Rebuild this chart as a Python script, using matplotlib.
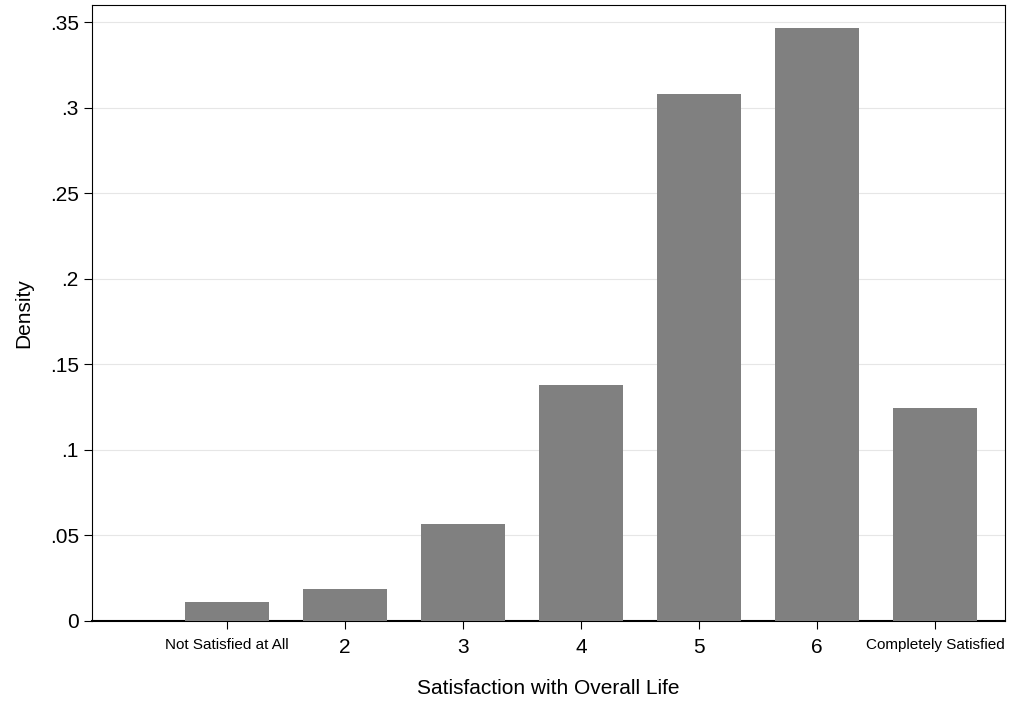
import numpy as np
import matplotlib
matplotlib.use("Agg")
import matplotlib.pyplot as plt

matplotlib.rc('font', family='Liberation Sans')

categories = ["Not Satisfied at All", "2", "3", "4", "5", "6", "Completely Satisfied"]
density = [0.0111, 0.0188, 0.0569, 0.1378, 0.3078, 0.3465, 0.1243]
y_ticks = [0, 0.05, 0.1, 0.15, 0.2, 0.25, 0.3, 0.35]
y_tick_labels = ["0", ".05", ".1", ".15", ".2", ".25", ".3", ".35"]

fig = plt.figure(figsize=(10.13, 7.04), dpi=100)
ax = fig.add_axes([0.0908, 0.118, 0.9012, 0.875])

x = np.arange(1, len(categories) + 1)
ax.bar(x, density, 0.71, color="#808080", zorder=3)

ax.set_xlim(-0.144, 7.59)
ax.set_ylim(0, 0.36)
ax.set_yticks(y_ticks)
ax.set_yticklabels(y_tick_labels, fontsize=15)
ax.set_xticks(x)
ax.set_xticklabels(categories, fontsize=15)
for i, lab in enumerate(ax.get_xticklabels()):
    if i in (0, len(categories) - 1):
        lab.set_fontsize(11)
ax.yaxis.grid(True, color="#e6e6e6", linewidth=0.8, zorder=0)
ax.tick_params(axis='both', length=6, color="black")
ax.tick_params(axis='x', pad=6)
ax.spines['bottom'].set_linewidth(1.5)
for s in ['top', 'right', 'left']:
    ax.spines[s].set_linewidth(0.8)

ax.set_xlabel("Satisfaction with Overall Life", fontsize=15, labelpad=16)
ax.set_ylabel("Density", fontsize=15, labelpad=12)

fig.savefig("out.png", dpi=100)
